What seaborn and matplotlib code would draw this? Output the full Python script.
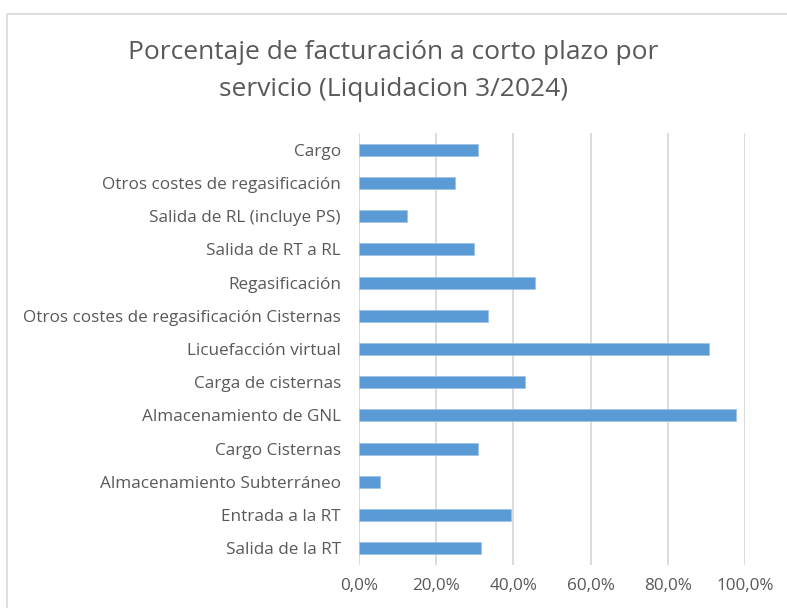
import numpy as np
import pandas as pd
import seaborn as sns
import matplotlib.pyplot as plt
from matplotlib.patches import Rectangle
from matplotlib.ticker import FuncFormatter

servicios = ['Cargo', 'Otros costes de regasificación', 'Salida de RL (incluye PS)',
             'Salida de RT a RL', 'Regasificación',
             'Otros costes de regasificación Cisternas', 'Licuefacción virtual',
             'Carga de cisternas', 'Almacenamiento de GNL', 'Cargo Cisternas',
             'Almacenamiento Subterráneo', 'Entrada a la RT', 'Salida de la RT']
porcentaje = [30.8, 24.8, 12.4, 29.9, 45.6, 33.5, 90.7, 42.9, 97.7, 30.9, 5.4, 39.4, 31.7]
ticks = [0, 20, 40, 60, 80, 100]

data = pd.DataFrame({'servicio': servicios, 'pct': porcentaje})

sns.set_style('white')
plt.rcParams['font.family'] = ['Open Sans', 'DejaVu Sans']

fig = plt.figure(figsize=(7.87, 6.08), dpi=100)
# chart frame like the spreadsheet chart area
fig.patches.append(Rectangle((7 / 787, -0.05), 1.0, 1 - 14 / 608 + 0.05,
                             transform=fig.transFigure, fill=False,
                             edgecolor='#d9d9d9', linewidth=1.2))
ax = fig.add_axes([359 / 787, 1 - 565 / 608, 386 / 787, (565 - 133) / 608])

sns.barplot(data=data, y='servicio', x='pct', color='#5b9bd5', width=0.36,
            saturation=1, edgecolor='#9dc3e6', linewidth=0.6, ax=ax, zorder=3)

ax.set_xlim(0, 100)
ax.set_xticks(ticks)
ax.xaxis.set_major_formatter(FuncFormatter(lambda v, p: f'{v:.1f}%'.replace('.', ',')))
ax.grid(axis='x', color='#d9d9d9', linewidth=1.3, zorder=0)
ax.grid(axis='y', visible=False)
for s in ax.spines.values():
    s.set_visible(False)
ax.tick_params(axis='both', length=0, labelsize=12.3, labelcolor='#595959')
ax.tick_params(axis='x', pad=9)
ax.tick_params(axis='y', pad=13)
ax.set_xlabel('')
ax.set_ylabel('')

fig.text(0.5, 1 - 71 / 608, 'Porcentaje de facturación a corto plazo por\nservicio (Liquidacion 3/2024)',
         ha='center', va='center', fontsize=19, color='#595959', linespacing=1.6)

fig.savefig('out.png', dpi=100)
